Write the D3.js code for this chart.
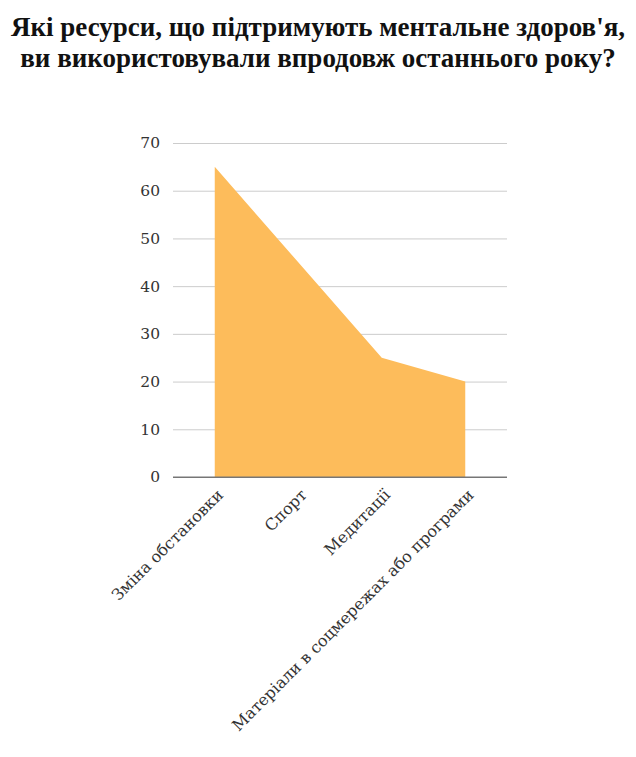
<!DOCTYPE html>
<html><head><meta charset="utf-8">
<script src="https://cdn.jsdelivr.net/npm/d3@7"></script>
<style>
body{margin:0;background:#fff;}
.title{font-family:"Liberation Serif","DejaVu Serif",serif;font-weight:bold;font-size:27px;fill:#111;}
.tick text{font-family:"DejaVu Serif",serif;fill:#333;}
</style></head>
<body>
<svg id="c" width="636" height="757"></svg>
<script>
const categories = ["Зміна обстановки","Спорт","Медитації","Матеріали в соцмережах або програми"];
const values = [65, 45, 25, 20];
const yTicks = [0,10,20,30,40,50,60,70];
const titleLines = ["Які ресурси, що підтримують ментальне здоров'я,","ви використовували впродовж останнього року?"];

(function(){
const svg = d3.select("#c");
const mLeft = 173, mRight = 507, mTop = 143, mBottom = 477;

svg.selectAll("text.title").data(titleLines).join("text")
  .attr("class","title").attr("x",318).attr("y",(d,i)=>36+i*31)
  .attr("text-anchor","middle").text(d=>d);

const x = d3.scalePoint().domain(categories).range([mLeft,mRight]).padding(0.5);
const y = d3.scaleLinear().domain([0,70]).range([mBottom,mTop]);

const gy = svg.append("g").attr("transform",`translate(${mLeft},0)`)
  .call(d3.axisLeft(y).tickValues(yTicks).tickSize(-(mRight-mLeft)).tickPadding(13));
gy.select(".domain").remove();
gy.selectAll(".tick line").attr("stroke",d=>d===0?"#777":"#ccc").attr("stroke-width",1);
gy.selectAll(".tick text").style("font-size","15.5px");

const area = d3.area().x(d=>x(d.c)).y0(y(0)).y1(d=>y(d.v));
const data = categories.map((c,i)=>({c,v:values[i]}));
svg.append("path").datum(data).attr("d",area).attr("fill","#fdbc5b");

svg.append("line").attr("x1",mLeft).attr("x2",mRight).attr("y1",y(0)).attr("y2",y(0)).attr("stroke","#777");

const gx = svg.append("g").attr("transform",`translate(0,${mBottom})`)
  .call(d3.axisBottom(x).tickSize(0).tickPadding(0));
gx.select(".domain").remove();
gx.selectAll(".tick text")
  .style("font-size","16px")
  .attr("text-anchor","end")
  .attr("transform","translate(5,15) rotate(-45)")
  .attr("dy","0.35em")
  .attr("y",0).attr("x",0);
})();
</script>
</body></html>
